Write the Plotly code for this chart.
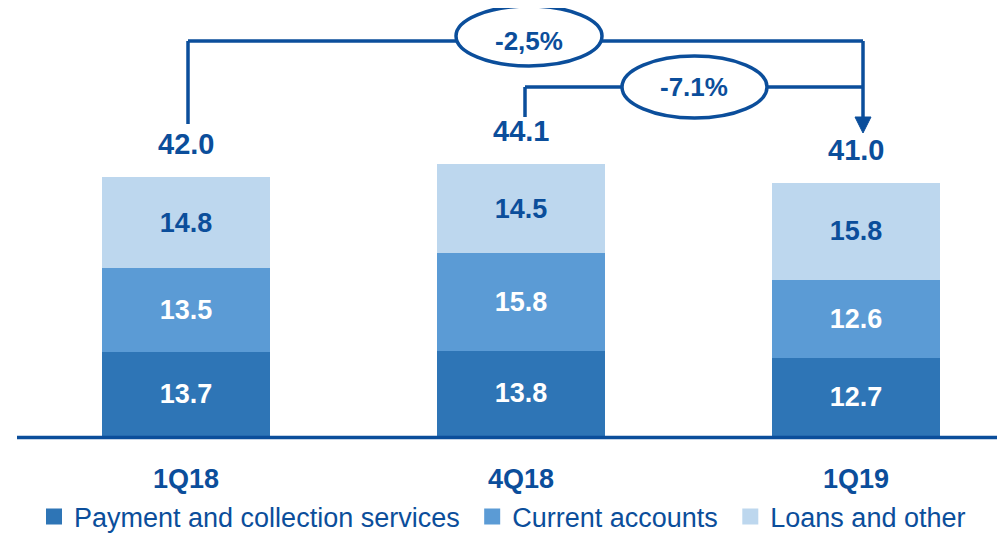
import plotly.graph_objects as go

# ---- data ----
categories = ["1Q18", "4Q18", "1Q19"]
payment = [13.7, 13.8, 12.7]
current = [13.5, 15.8, 12.6]
loans = [14.8, 14.5, 15.8]
totals = [42.0, 44.1, 41.0]
series_names = ["Payment and collection services", "Current accounts", "Loans and other"]
change_labels = ["-2,5%", "-7.1%"]

# ---- style ----
DARK = "#0B4E9B"
C1, C2, C3 = "#2E75B6", "#5B9BD5", "#BDD7EE"
FONT = "Liberation Sans Narrow, Arial Narrow, Liberation Sans, Arial, sans-serif"

W, H = 1005, 537
OFF = 8             # page body margin
BASE = 436          # screen pixel y of baseline
PPU = 6.167         # pixels per unit
X0PX, STEP = 186, 335
PLOT_H = BASE - OFF

def xd(px):
    return (px - X0PX) / STEP

def yd(px):
    return (BASE - px) / PPU

fig = go.Figure()
for vals, name, col, tcol in [(payment, series_names[0], C1, "white"),
                              (current, series_names[1], C2, "white"),
                              (loans, series_names[2], C3, DARK)]:
    fig.add_trace(go.Bar(
        x=categories, y=vals, name=name, marker=dict(color=col, line=dict(width=0)),
        width=0.5, text=[f"{v:.1f}" for v in vals], textposition="inside",
        insidetextanchor="middle", textangle=0, constraintext="none",
        textfont=dict(family=FONT, size=27, color=tcol),
        texttemplate="<b>%{text}</b>", showlegend=False, hoverinfo="skip"))
    fig.add_trace(go.Scatter(
        x=[None], y=[None], mode="markers", name=name + "\u00a0",
        marker=dict(symbol="square", size=16, color=col), showlegend=True))

# totals
for c, t in zip(categories, totals):
    fig.add_annotation(x=c, y=t, text=f"<b>{t:.1f}</b>", showarrow=False,
                       yanchor="middle", yshift=33,
                       font=dict(family=FONT, size=29, color=DARK))

LW = 3.5
shapes = []
def line(x0, y0, x1, y1):
    shapes.append(dict(type="line", xref="x", yref="y", x0=xd(x0), y0=yd(y0),
                       x1=xd(x1), y1=yd(y1), line=dict(color=DARK, width=LW)))

# connector -2,5% (1Q18 -> 1Q19)
line(188, 124, 188, 41)
line(188, 41, 863, 41)
line(863, 41, 863, 119)
# connector -7.1% (4Q18 -> 1Q19)
line(525, 117, 525, 87)
line(525, 87, 863, 87)
# arrow head
shapes.append(dict(type="path", xref="x", yref="y",
                   path=f"M {xd(855)},{yd(117)} L {xd(871)},{yd(117)} L {xd(863)},{yd(133)} Z",
                   fillcolor=DARK, line=dict(color=DARK, width=1)))
# ellipses
for (ex0, ex1, ey0, ey1) in [(456, 602, 6, 66), (622, 767, 56, 118)]:
    shapes.append(dict(type="circle", xref="x", yref="y", x0=xd(ex0), x1=xd(ex1),
                       y0=yd(ey1), y1=yd(ey0), fillcolor="white",
                       line=dict(color=DARK, width=LW)))
# baseline (paper refs so it is not clipped)
shapes.append(dict(type="line", xref="paper", yref="paper", x0=(17 - OFF) / W, x1=1.0,
                   y0=(BASE - 437.5) / PLOT_H, y1=(BASE - 437.5) / PLOT_H,
                   line=dict(color=DARK, width=3.5)))

for txt, (cx, cy) in zip(change_labels, [(529, 41), (694, 87)]):
    fig.add_annotation(x=xd(cx), y=yd(cy), text=f"<b>{txt}</b>", showarrow=False,
                       font=dict(family=FONT, size=26, color=DARK))

fig.update_layout(
    width=W, height=H, shapes=shapes, barmode="stack",
    margin=dict(l=0, r=0, t=0, b=H - PLOT_H, autoexpand=False),
    plot_bgcolor="white", paper_bgcolor="white",
    xaxis=dict(range=[xd(OFF), xd(OFF + W)], showgrid=False, zeroline=False, showline=False,
               ticks="", ticklabelstandoff=24, automargin=False,
               tickfont=dict(family=FONT, size=27, color=DARK),
               tickvals=categories, ticktext=[f"<b>{c}</b>" for c in categories]),
    yaxis=dict(range=[0, PLOT_H / PPU], visible=False, automargin=False),
    legend=dict(orientation="h", traceorder="normal", x=(34 - OFF) / W, xanchor="left",
                y=(BASE - 517) / PLOT_H, yanchor="middle",
                font=dict(family=FONT, size=27, color=DARK),
                bgcolor="rgba(0,0,0,0)", itemclick=False),
    showlegend=True,
)

fig.write_html("out.html")
